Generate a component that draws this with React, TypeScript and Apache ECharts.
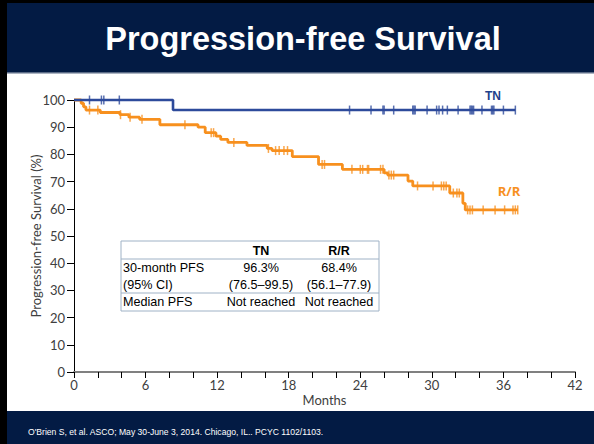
import React, { useEffect, useRef } from "react";
import * as echarts from "echarts";

const titleText = "Progression-free Survival";
const footerText = "O'Brien S, et al. ASCO; May 30-June 3, 2014. Chicago, IL.. PCYC 1102/1103.";

// Kaplan-Meier step data (months, % progression-free)
const tnTimes = [0, 8.3, 37.0];
const tnSurv = [100, 96.3, 96.3];
const tnCensor = [1.3, 2.3, 2.5, 3.8, 23.1, 24.9, 25.9, 26.0, 26.8, 28.4, 28.5, 28.6, 29.6, 30.4, 30.6, 30.9, 31.3, 32.2, 33.2, 33.3, 33.4, 33.5, 34.2, 35.0, 35.1, 35.2, 36.0, 37.0];

const rrTimes = [0, 0.6, 0.8, 1.0, 2.2, 3.85, 4.6, 5.5, 7.2, 10.4, 11.0, 11.9, 12.3, 12.9, 14.5, 16.2, 16.6, 18.3, 20.5, 22.5, 26.0, 26.3, 28.0, 28.4, 31.5, 32.6, 32.8, 37.2];
const rrSurv = [100, 98.8, 97.5, 96.3, 95.4, 94.6, 93.7, 92.9, 90.9, 90.0, 88.0, 86.7, 85.5, 84.4, 83.3, 82.2, 81.4, 79.2, 76.3, 74.5, 73.2, 72.4, 70.2, 68.4, 65.8, 62.0, 59.6, 59.6];
const rrCensor = [1.3, 2.0, 3.9, 4.7, 5.7, 9.3, 11.5, 11.7, 13.4, 16.3, 16.9, 17.2, 17.6, 17.9, 20.8, 21.0, 23.3, 24.0, 24.2, 24.6, 24.7, 25.7, 25.9, 26.4, 26.6, 26.8, 28.8, 30.1, 30.8, 31.0, 31.2, 31.8, 32.1, 32.3, 33.0, 33.2, 33.4, 34.3, 35.3, 36.1, 36.8, 37.0, 37.2];

// Table
const tableHeader = ["", "TN", "R/R"];
const tableRows = [
  ["30-month PFS", "96.3%", "68.4%"],
  ["(95% CI)", "(76.5\u201399.5)", "(56.1\u201377.9)"],
  ["Median PFS", "Not reached", "Not reached"],
];

const NAVY = "#031b44";
const BLUE = "#2d4a9b";
const ORANGE = "#f7901e";
const ARIAL = "Liberation Sans";

function survAt(times: number[], surv: number[], t: number) {
  let v = surv[0];
  for (let i = 0; i < times.length; i++) {
    if (times[i] <= t) v = surv[i];
  }
  return v;
}

export default function App() {
  const ref = useRef<HTMLDivElement>(null);
  useEffect(() => {
    if (!ref.current) return;
    const chart = echarts.init(ref.current, undefined, { renderer: "svg" });

    const tnLine = tnTimes.map((t, i) => [t, tnSurv[i]]);
    const rrLine = rrTimes.map((t, i) => [t, rrSurv[i]]);
    const tnMarks = tnCensor.map((t) => [t, survAt(tnTimes, tnSurv, t)]);
    const rrMarks = rrCensor.map((t) => [t, survAt(rrTimes, rrSurv, t)]);

    const tblLeft = 121, tblRight = 379, tblTop = 241, rowH = 17;
    const colX = [123, 261, 339];
    const tableGraphics: any[] = [
      { type: "rect", shape: { x: tblLeft, y: tblTop, width: tblRight - tblLeft, height: rowH * 4 + 2 }, style: { fill: "#fff", stroke: "#9fb2c6", lineWidth: 1 } },
      { type: "line", shape: { x1: tblLeft, y1: tblTop + rowH + 1, x2: tblRight, y2: tblTop + rowH + 1 }, style: { stroke: "#9fb2c6", lineWidth: 1 } },
      { type: "line", shape: { x1: tblLeft, y1: tblTop + rowH * 3 + 1, x2: tblRight, y2: tblTop + rowH * 3 + 1 }, style: { stroke: "#9fb2c6", lineWidth: 1 } },
    ];
    tableHeader.forEach((h, c) => {
      if (!h) return;
      tableGraphics.push({ type: "text", x: colX[c], y: tblTop + rowH / 2 + 1, style: { text: h, fontFamily: ARIAL, fontSize: 12.5, fontWeight: "bold", fill: "#000", align: "center", verticalAlign: "middle" } });
    });
    tableRows.forEach((row, r) => {
      row.forEach((cell, c) => {
        tableGraphics.push({
          type: "text",
          x: colX[c],
          y: tblTop + rowH * (r + 1) + rowH / 2 + 1,
          style: { text: cell, fontFamily: ARIAL, fontSize: 12.6, fill: "#000", align: c === 0 ? "left" : "center", verticalAlign: "middle" },
        });
      });
    });

    chart.setOption({
      animation: false,
      backgroundColor: "#fff",
      grid: { left: 74, right: 19, top: 100, bottom: 72 },
      xAxis: {
        type: "value",
        min: 0,
        max: 42,
        interval: 2,
        name: "Months",
        nameLocation: "middle",
        nameGap: 21,
        nameMoveOverlap: false,
        nameTextStyle: { fontFamily: "Lato", fontSize: 13, color: "#404040" },
        axisLine: { lineStyle: { color: "#808080", width: 2 } },
        axisTick: { length: 6, lineStyle: { color: "#000" } },
        axisLabel: { formatter: (v: number) => (v % 6 === 0 ? String(v) : ""), fontFamily: "Lato", fontSize: 13, color: "#404040", margin: 6 },
        splitLine: { show: false },
      },
      yAxis: {
        type: "value",
        min: 0,
        max: 100,
        interval: 10,
        name: "Progression-free Survival (%)",
        nameLocation: "middle",
        nameRotate: 90,
        nameGap: 32,
        nameMoveOverlap: false,
        nameTextStyle: { fontFamily: "Lato", fontSize: 13, color: "#404040" },
        axisLine: { show: true, lineStyle: { color: "#000", width: 1 } },
        axisTick: { show: true, length: 7, lineStyle: { color: "#000" } },
        axisLabel: { fontFamily: "Lato", fontSize: 13, color: "#404040", margin: 9 },
        splitLine: { show: false },
      },
      series: [
        { type: "line", step: "end", data: rrLine, symbol: "none", clip: false, lineStyle: { color: ORANGE, width: 2.8 }, z: 3 },
        { type: "scatter", data: rrMarks, symbol: "rect", symbolSize: [1.5, 9], itemStyle: { color: ORANGE }, clip: false, z: 3 },
        { type: "line", step: "end", data: tnLine, symbol: "none", clip: false, lineStyle: { color: BLUE, width: 2.6 }, z: 4 },
        { type: "scatter", data: tnMarks, symbol: "rect", symbolSize: [1.5, 9], itemStyle: { color: BLUE }, clip: false, z: 4 },
      ],
      graphic: [
        { type: "rect", shape: { x: 0, y: 0, width: 594, height: 73 }, style: { fill: NAVY }, z: 10 },
        { type: "rect", shape: { x: 0, y: 72, width: 594, height: 1.5 }, style: { fill: "#5b6b86" }, z: 10 },
        { type: "rect", shape: { x: 0, y: 411, width: 594, height: 33 }, style: { fill: NAVY }, z: 10 },
        { type: "rect", shape: { x: 0, y: 0, width: 594, height: 3 }, style: { fill: "#000" }, z: 11 },
        { type: "rect", shape: { x: 0, y: 0, width: 7, height: 444 }, style: { fill: "#000" }, z: 11 },
        { type: "text", x: 303, y: 39, style: { text: titleText, fontFamily: ARIAL, fontSize: 32.5, fontWeight: "bold", fill: "#fff", align: "center", verticalAlign: "middle" }, z: 12 },
        { type: "text", x: 28, y: 432, style: { text: footerText, fontFamily: ARIAL, fontSize: 8.6, fill: "#fff", align: "left", verticalAlign: "middle" }, z: 12 },
        { type: "text", x: 493, y: 96, style: { text: "TN", fontFamily: ARIAL, fontSize: 12, fontWeight: "bold", fill: "#223f8a", align: "center", verticalAlign: "middle" }, z: 12 },
        { type: "text", x: 509, y: 191, style: { text: "R/R", fontFamily: "Open Sans", fontSize: 13, fontWeight: "bold", fill: ORANGE, align: "center", verticalAlign: "middle" }, z: 12 },
        ...tableGraphics.map((g) => ({ ...g, z: 12 })),
      ],
    });
    return () => chart.dispose();
  }, []);
  return <div ref={ref} style={{ position: "absolute", left: 0, top: 0, width: 594, height: 444 }} />;
}
